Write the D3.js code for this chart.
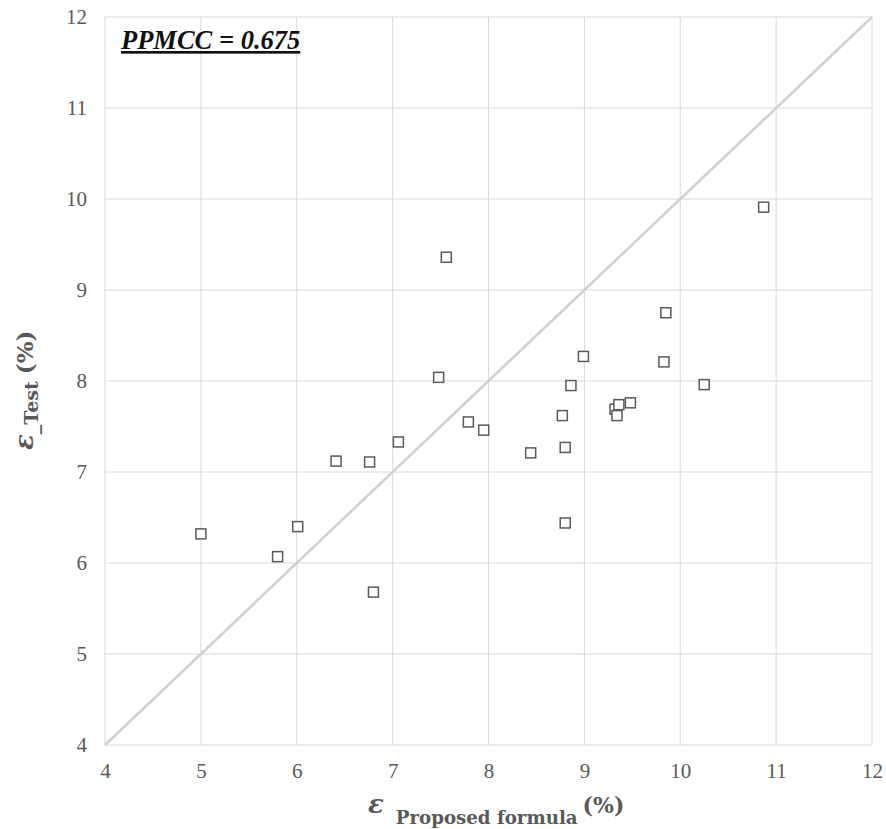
<!DOCTYPE html>
<html>
<head>
<meta charset="utf-8">
<script src="https://cdn.jsdelivr.net/npm/d3@7"></script>
<style>
  body { margin: 0; background: #fff; }
</style>
</head>
<body>
<div id="chart"></div>
<script>
// test strain vs proposed formula
var xValues = [5.00, 5.80, 6.01, 6.41, 6.76, 6.80, 7.06, 7.48, 7.56, 7.79, 7.95, 8.44, 8.77,
               8.80, 8.80, 8.86, 8.99, 9.32, 9.34, 9.36, 9.48, 9.83, 9.85, 10.25, 10.87];
var yValues = [6.32, 6.07, 6.40, 7.12, 7.11, 5.68, 7.33, 8.04, 9.36, 7.55, 7.46, 7.21, 7.62,
               7.27, 6.44, 7.95, 8.27, 7.69, 7.62, 7.74, 7.76, 8.21, 8.75, 7.96, 9.91];
var xTicks = [4, 5, 6, 7, 8, 9, 10, 11, 12];
var yTicks = [4, 5, 6, 7, 8, 9, 10, 11, 12];
var lineOfEquality = [4, 12];
var ppmccLabel = "PPMCC = 0.675";

var margin = {top: 17, right: 14, bottom: 84, left: 105},
    width = 886 - margin.left - margin.right,
    height = 829 - margin.top - margin.bottom;

var svg = d3.select("#chart")
  .append("svg")
  .attr("width", 886)
  .attr("height", 829)
  .append("g")
  .attr("transform", "translate(" + margin.left + "," + margin.top + ")");

var x = d3.scaleLinear().domain([4, 12]).range([0, width]);
var y = d3.scaleLinear().domain([4, 12]).range([height, 0]);

// grid
svg.append("g")
  .selectAll("line")
  .data(xTicks)
  .enter().append("line")
  .attr("x1", d => x(d)).attr("x2", d => x(d))
  .attr("y1", 0).attr("y2", height)
  .attr("stroke", "#d9d9d9")
  .attr("stroke-width", 1);

svg.append("g")
  .selectAll("line")
  .data(yTicks)
  .enter().append("line")
  .attr("x1", 0).attr("x2", width)
  .attr("y1", d => y(d)).attr("y2", d => y(d))
  .attr("stroke", "#d9d9d9")
  .attr("stroke-width", 1);

// axes (labels only, lines come from grid)
var xAxis = svg.append("g")
  .attr("transform", "translate(0," + height + ")")
  .call(d3.axisBottom(x).tickValues(xTicks).tickSize(0).tickPadding(18));
var yAxis = svg.append("g")
  .call(d3.axisLeft(y).tickValues(yTicks).tickSize(0).tickPadding(18));

[xAxis, yAxis].forEach(function(a) {
  a.select(".domain").remove();
  a.selectAll("text")
    .style("font-family", "'Liberation Serif', serif")
    .style("font-size", "21px")
    .attr("fill", "#595959");
});

// 1:1 line
svg.append("line")
  .attr("x1", x(lineOfEquality[0])).attr("y1", y(lineOfEquality[0]))
  .attr("x2", x(lineOfEquality[1])).attr("y2", y(lineOfEquality[1]))
  .attr("stroke", "#d0d0d0")
  .attr("stroke-width", 2.5);

// points
var pts = xValues.map((d, i) => ({x: d, y: yValues[i]}));
var s = 10;
svg.selectAll(".pt")
  .data(pts)
  .enter().append("rect")
  .attr("class", "pt")
  .attr("x", d => x(d.x) - s / 2)
  .attr("y", d => y(d.y) - s / 2)
  .attr("width", s)
  .attr("height", s)
  .attr("fill", "#fff")
  .attr("stroke", "#5a5a5a")
  .attr("stroke-width", 1.5);

// PPMCC label
svg.append("text")
  .attr("x", 16)
  .attr("y", 32)
  .style("font-family", "'Liberation Serif', serif")
  .style("font-size", "26.5px")
  .style("font-weight", "bold")
  .style("font-style", "italic")
  .style("text-decoration", "underline")
  .attr("fill", "#111")
  .text(ppmccLabel);

// x title
var xt = svg.append("text")
  .attr("x", 263)
  .attr("y", height + 68)
  .style("font-family", "'DejaVu Serif', serif")
  .style("font-weight", "bold")
  .attr("fill", "#595959");
xt.append("tspan").style("font-size", "26px").style("font-style", "italic").text("ε");
xt.append("tspan").attr("dx", 12).attr("dy", 11).style("font-size", "18.2px").text("Proposed formula");
xt.append("tspan").attr("dx", 5).attr("dy", -11).style("font-size", "22px").text("(%)");

// y title
var yt = svg.append("text")
  .attr("transform", "translate(" + (33 - margin.left) + "," + (450 - margin.top) + ") rotate(-90)")
  .style("font-family", "'DejaVu Serif', serif")
  .style("font-weight", "bold")
  .attr("fill", "#595959");
yt.append("tspan").style("font-size", "26px").style("font-style", "italic").text("ε");
yt.append("tspan").attr("dy", 5).style("font-size", "19px").text("_Test");
yt.append("tspan").attr("dx", 7).attr("dy", -5).style("font-size", "23px").text("(%)");
</script>
</body>
</html>
